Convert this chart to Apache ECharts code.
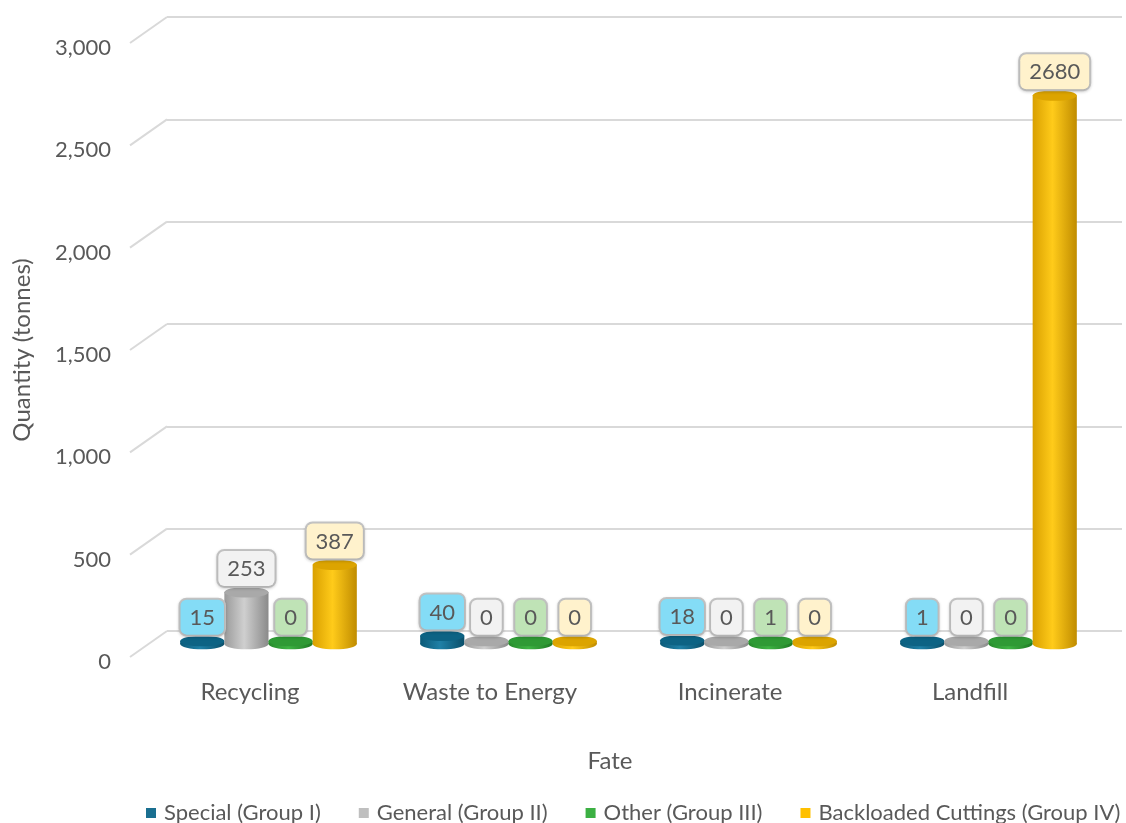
<!DOCTYPE html>
<html>
<head>
<meta charset="utf-8">
<script src="https://cdn.jsdelivr.net/npm/echarts@6/dist/echarts.min.js"></script>
<style>
  html, body { margin: 0; padding: 0; background: #fff; }
  #chart { width: 1126px; height: 823px; }
</style>
</head>
<body>
<div id="chart"></div>
<script>
// Waste quantities (tonnes) by fate and waste group
const categories = ['Recycling', 'Waste to Energy', 'Incinerate', 'Landfill'];
const special  = [15, 40, 18, 1];
const general  = [253, 0, 0, 0];
const other    = [0, 0, 1, 0];
const cuttings = [387, 0, 0, 2680];
const seriesNames = ['Special (Group I)', 'General (Group II)', 'Other (Group III)', 'Backloaded Cuttings (Group IV)'];
const yTicks = [0, 500, 1000, 1500, 2000, 2500, 3000];

const FONT = 'Lato, "Open Sans", sans-serif';
const TXT = '#595959';

// pseudo-3D depth: the back wall sits up and to the right of the front edge
const DEPTH_X = 37, DEPTH_Y = 26;
const FRONT = { left: 130, top: 43, width: 960, bottom: 166 };

// colours per group: legend, body gradient (edge / highlight / edge), cap, label box
const palettes = [
  { legend: '#1a6f90', edgeL: '#0c5a78', mid: '#1f80a6', edgeR: '#0a4f6a', cap: '#0d6384', box: '#84dcf6' },
  { legend: '#bfbfbf', edgeL: '#9a9a9a', mid: '#cfcfcf', edgeR: '#8a8a8a', cap: '#a9a9a9', box: '#f2f2f2' },
  { legend: '#3cb043', edgeL: '#278a2c', mid: '#3fb444', edgeR: '#1f7a24', cap: '#2f9a35', box: '#bfe3b6' },
  { legend: '#ffc000', edgeL: '#d9a000', mid: '#ffcb1a', edgeR: '#c08c00', cap: '#dca400', box: '#fff2cc' }
];
const seriesValues = [special, general, other, cuttings];

function makeCylinder(idx) {
  const p = palettes[idx];
  return function (params, api) {
    const cat = api.value(0), v = api.value(1);
    const band = api.size([1, 0])[0];
    const w = band * 0.184;
    const base = api.coord([cat, 0]);
    const top = api.coord([cat, v]);
    const cx = base[0] + (idx - 1.5) * w;
    const rx = w / 2, ry = w * 0.12;
    const yBase = base[1];
    const yTop = Math.min(top[1], yBase - 3);
    const grad = new echarts.graphic.LinearGradient(0, 0, 1, 0, [
      { offset: 0, color: p.edgeL },
      { offset: 0.45, color: p.mid },
      { offset: 1, color: p.edgeR }
    ]);
    return {
      type: 'group',
      children: [
        { type: 'ellipse', shape: { cx: cx, cy: yBase, rx: rx, ry: ry }, style: { fill: grad } },
        { type: 'rect', shape: { x: cx - rx, y: yTop, width: w, height: yBase - yTop }, style: { fill: grad } },
        { type: 'ellipse', shape: { cx: cx, cy: yTop, rx: rx, ry: ry }, style: { fill: p.cap } },
        {
          type: 'text', z2: 100,
          x: cx, y: yTop - ry - 1,
          style: {
            text: String(v), align: 'center', verticalAlign: 'bottom',
            fill: TXT, font: '22px ' + FONT,
            backgroundColor: p.box, borderColor: '#c4c4c4', borderWidth: 2, borderRadius: 6,
            padding: [7, 9, 6, 9],
            shadowColor: 'rgba(0,0,0,0.15)', shadowBlur: 3, shadowOffsetY: 1
          }
        }
      ]
    };
  };
}

// depth edges joining each front tick to its back-wall gridline
function renderDepthEdge(params, api) {
  const y = api.coord([0, api.value(0)])[1];
  const x = params.coordSys.x;
  return {
    type: 'line',
    shape: { x1: x, y1: y, x2: x + DEPTH_X, y2: y - DEPTH_Y },
    style: { stroke: '#d9d9d9', lineWidth: 2 }
  };
}

const chart = echarts.init(document.getElementById('chart'));

const valueAxisBase = { type: 'value', min: 0, max: 3000, interval: 500 };

const option = {
  animation: false,
  textStyle: { fontFamily: FONT },
  grid: [
    // back wall
    { left: FRONT.left + DEPTH_X, top: FRONT.top - DEPTH_Y, right: 4, bottom: FRONT.bottom + DEPTH_Y },
    // front edge (axis labels)
    { left: FRONT.left, top: FRONT.top, width: FRONT.width, bottom: FRONT.bottom },
    // mid depth (bars)
    { left: FRONT.left + DEPTH_X / 2, top: FRONT.top - DEPTH_Y / 2, width: FRONT.width, bottom: FRONT.bottom + DEPTH_Y / 2 }
  ],
  xAxis: [
    { gridIndex: 0, type: 'category', data: categories, show: false },
    {
      gridIndex: 1, type: 'category', data: categories,
      axisLine: { show: false }, axisTick: { show: false },
      axisLabel: { color: TXT, fontSize: 24, margin: 23, fontFamily: FONT },
      name: 'Fate', nameLocation: 'middle', nameGap: 92,
      nameTextStyle: { color: TXT, fontSize: 24, fontFamily: FONT }
    },
    { gridIndex: 2, type: 'category', data: categories, show: false }
  ],
  yAxis: [
    Object.assign({ gridIndex: 0, axisLine: { show: false }, axisTick: { show: false }, axisLabel: { show: false },
      splitLine: { lineStyle: { color: '#d9d9d9', width: 2 } } }, valueAxisBase),
    Object.assign({ gridIndex: 1, axisLine: { show: false }, axisTick: { show: false }, splitLine: { show: false },
      axisLabel: { color: TXT, fontSize: 22, margin: 19, fontFamily: FONT,
        formatter: v => '{t|' + v.toLocaleString('en-US') + '}',
        rich: { t: { color: TXT, fontSize: 22, fontFamily: FONT, padding: [10, 0, 0, 0] } } },
      name: 'Quantity (tonnes)', nameLocation: 'middle', nameGap: 96,
      nameTextStyle: { color: TXT, fontSize: 24, fontFamily: FONT } }, valueAxisBase),
    Object.assign({ gridIndex: 2, show: false, splitLine: { show: false } }, valueAxisBase)
  ],
  legend: {
    top: 797, left: 141,
    icon: 'rect', itemWidth: 10, itemHeight: 10, itemGap: 38,
    textStyle: { color: TXT, fontSize: 22, fontFamily: FONT, padding: [0, 0, 0, 3] },
    data: seriesNames
  },
  series: [
    {
      type: 'custom', name: 'depth', xAxisIndex: 1, yAxisIndex: 1,
      data: yTicks.map(v => [v]), renderItem: renderDepthEdge, silent: true, encode: { y: 0 }
    }
  ].concat(seriesNames.map((name, i) => ({
    type: 'custom', name: name, xAxisIndex: 2, yAxisIndex: 2,
    itemStyle: { color: palettes[i].legend },
    encode: { x: 0, y: 1 },
    data: seriesValues[i].map((v, c) => [c, v]),
    renderItem: makeCylinder(i)
  })))
};

chart.setOption(option);
</script>
</body>
</html>
